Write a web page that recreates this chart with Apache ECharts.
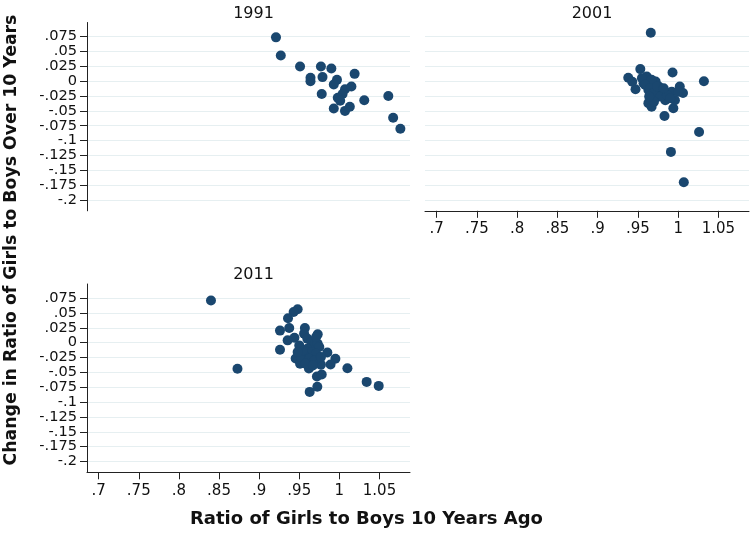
<!DOCTYPE html>
<html>
<head>
<meta charset="utf-8">
<script src="https://cdn.jsdelivr.net/npm/echarts@6/dist/echarts.min.js"></script>
<style>
html,body{margin:0;padding:0;background:#fff;}
#chart{width:750px;height:534px;}
</style>
</head>
<body>
<div id="chart"></div>
<script>
// ---- data ----
var panelTitles = ['1991', '2001', '2011'];
var xTickValues = [0.7, 0.75, 0.8, 0.85, 0.9, 0.95, 1, 1.05];
var yTickValues = [0.075, 0.05, 0.025, 0, -0.025, -0.05, -0.075, -0.1, -0.125, -0.15, -0.175, -0.2];

var x1991 = [0.921, 0.927, 0.951, 0.977, 0.990, 1.019, 0.964, 0.964, 0.979, 0.997, 0.993, 1.007, 1.015, 1.004, 0.978, 0.998, 1.001, 1.031, 1.061, 0.993, 1.007, 1.013, 1.067, 1.076];
var y1991 = [0.0737, 0.0433, 0.0247, 0.0247, 0.0213, 0.0123, 0.0056, 0.0000, 0.0068, 0.0022, -0.0057, -0.0135, -0.0090, -0.0215, -0.0215, -0.0280, -0.0330, -0.0320, -0.0250, -0.0460, -0.0500, -0.0430, -0.0615, -0.0800];

var x2001 = [0.966, 0.953, 0.993, 1.032, 0.938, 0.947, 0.983, 1.026, 0.991, 1.007,
             1.002, 1.006, 0.994, 0.963, 0.967, 0.961, 0.972, 0.980, 0.988, 0.972,
             0.984, 0.963, 0.957, 0.996, 0.976, 0.967, 0.992, 1.000, 0.955, 0.959,
             0.965, 0.969, 0.974, 0.978, 0.986, 0.990, 0.970, 0.982, 0.964, 0.943];
var y2001 = [0.0816, 0.0203, 0.0145, 0.0000, 0.0056, -0.0135, -0.0586, -0.0856, -0.1190, -0.1700,
             -0.0090, -0.0200, -0.0456, -0.0370, -0.0430, 0.0078, -0.0007, -0.0147, -0.0260, -0.0230,
             -0.0320, -0.0147, -0.0034, -0.0320, -0.0090, 0.0022, -0.0176, -0.0176, 0.0051, -0.0062,
             -0.0118, -0.0203, -0.0091, -0.0260, -0.0231, -0.0287, -0.0345, -0.0120, -0.0260, -0.0010];

var x2011 = [0.840, 0.873, 0.948, 0.943, 0.936, 0.926, 0.9375, 0.957, 0.973, 0.926,
             0.9355, 0.944, 0.985, 0.995, 0.989, 1.010, 1.034, 1.049, 0.963, 0.9725,
             0.972, 0.978, 0.962, 0.9455, 0.951, 0.977, 0.956, 0.960, 0.965, 0.969,
             0.973, 0.975, 0.960, 0.965, 0.971, 0.956, 0.952, 0.9625, 0.969, 0.958,
             0.967, 0.954, 0.950, 0.948, 0.977, 0.971];
var y2011 = [0.0709, -0.0439, 0.0562, 0.0517, 0.0410, 0.0203, 0.0247, 0.0247, 0.0140, -0.0118,
             0.0039, 0.0084, -0.0164, -0.0270, -0.0367, -0.0429, -0.0660, -0.0727, -0.0828, -0.0743,
             -0.0570, -0.0535, -0.0434, -0.0265, -0.0355, -0.0370, 0.0152, 0.0068, 0.0010, -0.0046,
             -0.0017, -0.0074, -0.0101, -0.0159, -0.0186, -0.0214, -0.0243, -0.0270, -0.0299, -0.0355,
             -0.0383, -0.0130, -0.0046, -0.0159, -0.0243, 0.0095];

var xTitle = 'Ratio of Girls to Boys 10 Years Ago';
var yTitle = 'Change in Ratio of Girls to Boys Over 10 Years';

// ---- build ----
function pairs(xs, ys) { var out = []; for (var i = 0; i < xs.length; i++) out.push([xs[i], ys[i]]); return out; }
function fmt(v) { var s = String(Math.round(v * 1000) / 1000); return s.replace('0.', '.'); }

var FONT = 'DejaVu Sans';
var NAVY = '#1a476f';
var GRIDC = '#e6eff1';
var XMIN = 0.6855, XMAX = 1.088;
var YMIN = -0.2181, YMAX = 0.0987;

var grids = [
  {left: 87, top: 22.5, width: 323, height: 188.3},
  {left: 425, top: 22.5, width: 324, height: 188.3},
  {left: 87, top: 284, width: 323, height: 188.3}
];

function xAxisCfg(i, showAxis) {
  return {
    type: 'value', gridIndex: i, min: XMIN, max: XMAX,
    axisLine: {show: showAxis, onZero: false, lineStyle: {color: '#222', width: 1}},
    axisTick: {show: showAxis, length: 7, customValues: xTickValues, lineStyle: {color: '#222'}},
    axisLabel: {show: showAxis, customValues: xTickValues, formatter: fmt, fontFamily: FONT, fontSize: 15, color: '#111', margin: 11,
                showMinLabel: true, showMaxLabel: true, hideOverlap: false},
    splitLine: {show: false}
  };
}
function yAxisCfg(i, showAxis) {
  return {
    type: 'value', gridIndex: i, min: YMIN, max: YMAX,
    axisLine: {show: showAxis, onZero: false, lineStyle: {color: '#222', width: 1}},
    axisTick: {show: showAxis, length: 7, customValues: yTickValues, lineStyle: {color: '#222'}},
    axisLabel: {show: showAxis, customValues: yTickValues, formatter: fmt, fontFamily: FONT, fontSize: 14.6, color: '#111', margin: 10, lineHeight: 12,
                showMinLabel: true, showMaxLabel: true, hideOverlap: false},
    splitLine: {show: true, lineStyle: {color: GRIDC, width: 1}}
  };
}

var datasets = [pairs(x1991, y1991), pairs(x2001, y2001), pairs(x2011, y2011)];

var option = {
  animation: false,
  backgroundColor: '#fff',
  title: [
    {text: panelTitles[0], left: 248.5, top: 1, textAlign: 'center', textStyle: {fontFamily: FONT, fontSize: 16, fontWeight: 'normal', color: '#111'}},
    {text: panelTitles[1], left: 587, top: 1, textAlign: 'center', textStyle: {fontFamily: FONT, fontSize: 16, fontWeight: 'normal', color: '#111'}},
    {text: panelTitles[2], left: 248.5, top: 262, textAlign: 'center', textStyle: {fontFamily: FONT, fontSize: 16, fontWeight: 'normal', color: '#111'}}
  ],
  grid: grids,
  xAxis: [xAxisCfg(0, false), xAxisCfg(1, true), xAxisCfg(2, true)],
  yAxis: [yAxisCfg(0, true), yAxisCfg(1, false), yAxisCfg(2, true)],
  series: datasets.map(function (d, i) {
    return {type: 'scatter', xAxisIndex: i, yAxisIndex: i, data: d, symbolSize: 10,
            itemStyle: {color: NAVY, opacity: 1}, silent: true};
  }),
  graphic: [
    {type: 'text', left: 190, top: 510, style: {text: xTitle, fontFamily: FONT, fontSize: 18, fontWeight: 'bold', fill: '#111'}},
    {type: 'text', x: 3, y: 240, rotation: Math.PI / 2,
     style: {text: yTitle, fontFamily: FONT, fontSize: 17.3, fontWeight: 'bold', fill: '#111', align: 'center', verticalAlign: 'top'}}
  ]
};

var chart = echarts.init(document.getElementById('chart'), null, {renderer: 'canvas'});
chart.setOption(option);
</script>
</body>
</html>
